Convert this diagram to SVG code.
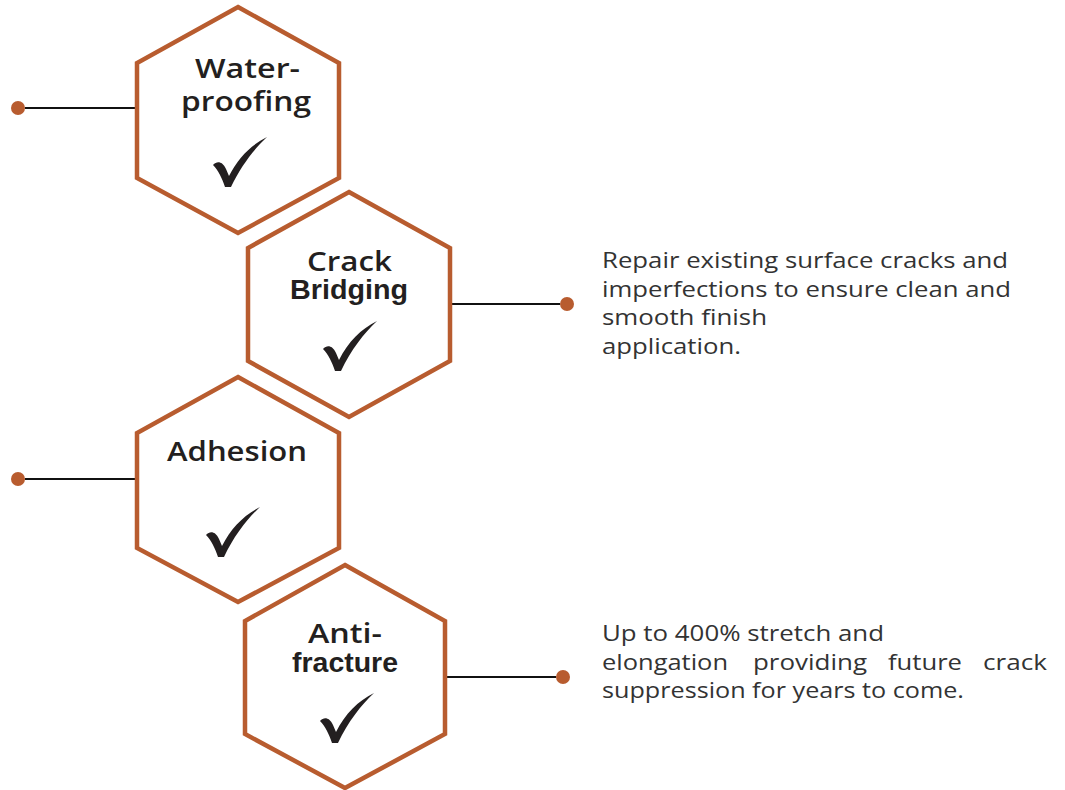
<svg xmlns="http://www.w3.org/2000/svg" width="1065" height="790" viewBox="0 0 1065 790">
<defs>
<style>
.hex{fill:#fff;stroke:#B85C2F;stroke-width:4.5;stroke-linejoin:miter}
.lbl{font-family:"Open Sans","Liberation Sans",sans-serif;font-weight:600;font-size:27px;fill:#231f20;text-anchor:start}
.lbl2{font-family:"Liberation Sans",Arial,sans-serif;font-weight:700;font-size:28px;fill:#231f20}
.desc{font-family:"Open Sans","Liberation Sans",sans-serif;font-size:21px;fill:#333}
.line{stroke:#111;stroke-width:2.2;fill:none}
.dot{fill:#B85C2F}
.chk{fill:#231f20}
</style>
<path id="check" d="M0,28 C4,24 9,24 13,32 L16,39 C25,21 38,8 54,0 C41,12 28,29 18,50 L12,50 C9,41 5,33 0,28 Z"/>
</defs>
<g id="connectors">
<line class="line" x1="25" y1="108" x2="137" y2="108"/>
<circle class="dot" cx="18" cy="108" r="7"/>
<line class="line" x1="450" y1="304" x2="560" y2="304"/>
<circle class="dot" cx="567" cy="304" r="7"/>
<line class="line" x1="25" y1="479" x2="137" y2="479"/>
<circle class="dot" cx="18" cy="479" r="7"/>
<line class="line" x1="445" y1="677" x2="556" y2="677"/>
<circle class="dot" cx="563" cy="677" r="7"/>
</g>
<g id="node-waterproofing">
<polygon class="hex" points="238,7 339,63 339,178 238,233 137,178 137,63"/>
<text class="lbl" x="195" y="78" textLength="105" lengthAdjust="spacingAndGlyphs">Water-</text>
<text class="lbl" x="181" y="111" textLength="130" lengthAdjust="spacingAndGlyphs">proofing</text>
<use href="#check" class="chk" x="213" y="137"/>
</g>
<g id="node-crack-bridging">
<polygon class="hex" points="349,192 450,248 450,361 349,417 248,361 248,248"/>
<text class="lbl" x="307" y="271" textLength="85" lengthAdjust="spacingAndGlyphs">Crack</text>
<text class="lbl2" x="290" y="299" textLength="118" lengthAdjust="spacingAndGlyphs">Bridging</text>
<use href="#check" class="chk" x="323" y="321"/>
</g>
<g id="node-adhesion">
<polygon class="hex" points="238,377 339,433 339,548 238,602 137,548 137,433"/>
<text class="lbl" x="167" y="461" textLength="140" lengthAdjust="spacingAndGlyphs">Adhesion</text>
<use href="#check" class="chk" x="206" y="507"/>
</g>
<g id="node-anti-fracture">
<polygon class="hex" points="345,565 445,621 445,734 345,788 245,734 245,621"/>
<text class="lbl" x="308" y="643" textLength="74" lengthAdjust="spacingAndGlyphs">Anti-</text>
<text class="lbl2" x="292" y="672" textLength="106" lengthAdjust="spacingAndGlyphs">fracture</text>
<use href="#check" class="chk" x="320" y="693"/>
</g>
<g id="desc-crack">
<text class="desc" x="602" y="268" textLength="406" lengthAdjust="spacingAndGlyphs">Repair existing surface cracks and</text>
<text class="desc" x="602" y="297" textLength="409" lengthAdjust="spacingAndGlyphs">imperfections to ensure clean and</text>
<text class="desc" x="602" y="325" textLength="165" lengthAdjust="spacingAndGlyphs">smooth finish</text>
<text class="desc" x="602" y="354" textLength="139" lengthAdjust="spacingAndGlyphs">application.</text>
</g>
<g id="desc-fracture">
<text class="desc" x="602" y="641" textLength="282" lengthAdjust="spacingAndGlyphs">Up to 400% stretch and</text>
<text class="desc" x="602" y="670" textLength="126" lengthAdjust="spacingAndGlyphs">elongation</text>
<text class="desc" x="753" y="670" textLength="114" lengthAdjust="spacingAndGlyphs">providing</text>
<text class="desc" x="888" y="670" textLength="74" lengthAdjust="spacingAndGlyphs">future</text>
<text class="desc" x="983" y="670" textLength="64" lengthAdjust="spacingAndGlyphs">crack</text>
<text class="desc" x="602" y="698" textLength="362" lengthAdjust="spacingAndGlyphs">suppression for years to come.</text>
</g>
</svg>
